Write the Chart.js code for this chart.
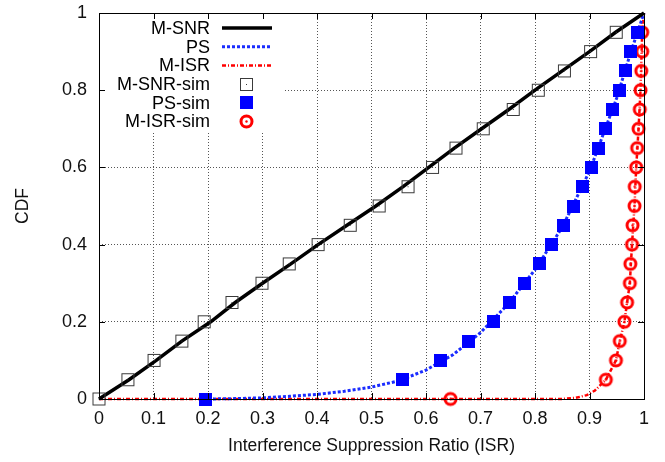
<!DOCTYPE html>
<html><head><meta charset="utf-8">
<script src="https://cdn.jsdelivr.net/npm/chart.js@4.4.0/dist/chart.umd.min.js"></script>
<style>html,body{margin:0;padding:0;background:#fff;overflow:hidden}</style>
</head><body>
<canvas id="c" width="665" height="462"></canvas>
<script>
// ---- data ----
const cdfLevels = [0,0.05,0.1,0.15,0.2,0.25,0.3,0.35,0.4,0.45,0.5,0.55,0.6,0.65,0.7,0.75,0.8,0.85,0.9,0.95];
const snrSimX = [0,0.053,0.101,0.152,0.193,0.244,0.299,0.349,0.402,0.461,0.514,0.567,0.612,0.655,0.705,0.76,0.806,0.854,0.902,0.949];
const psSimX  = [0.196,0.556,0.6275,0.678,0.7236,0.753,0.7805,0.808,0.831,0.852,0.87,0.888,0.903,0.917,0.929,0.942,0.9556,0.966,0.975,0.9875];
const isrSimX = [0.645,0.93,0.9486,0.9556,0.964,0.969,0.974,0.975,0.978,0.979,0.9826,0.983,0.9857,0.9875,0.99,0.9923,0.9936,0.995,0.9967,0.9967];

const snrLineX = [0,0.055,0.105,0.152,0.205,0.25,0.3,0.352,0.402,0.455,0.508,0.558,0.605,0.652,0.702,0.752,0.8,0.85,0.9,0.948,1];
const snrLineY = [0,0.05,0.1,0.15,0.2,0.25,0.3,0.35,0.4,0.45,0.5,0.55,0.6,0.65,0.7,0.75,0.8,0.85,0.9,0.95,1];
const psLineX = [0.2,0.25,0.3,0.35,0.4,0.45,0.5,0.55,0.6,0.65,0.7,0.75,0.8,0.85,0.9,0.925,0.95,0.975,1];
const psLineY = [0,0.001,0.003,0.007,0.012,0.02,0.031,0.047,0.075,0.115,0.172,0.245,0.335,0.445,0.59,0.685,0.78,0.895,1];
const isrLineX = [0,0.85,0.875,0.895,0.91,0.93,0.9486,0.9556,0.964,0.969,0.974,0.978,0.9826,0.9857,0.99,0.9936,0.9967,1];
const isrLineY = [0,0,0.003,0.01,0.022,0.05,0.1,0.15,0.2,0.25,0.3,0.4,0.5,0.6,0.7,0.8,0.95,1];

const xTickLabels = ['0','0.1','0.2','0.3','0.4','0.5','0.6','0.7','0.8','0.9','1'];
const yTickLabels = ['0','0.2','0.4','0.6','0.8','1'];
const seriesNames = ['M-SNR','PS','M-ISR','M-SNR-sim','PS-sim','M-ISR-sim'];
const xTitle = 'Interference Suppression Ratio (ISR)';
const yTitle = 'CDF';

// ---- helpers ----
const FONT = '"Liberation Sans", Arial, Helvetica, sans-serif';
const pts = (xs, ys) => xs.map((x, i) => ({x: x, y: ys[i]}));

function mk(w, h, fn){ const c = document.createElement('canvas'); c.width = w; c.height = h; fn(c.getContext('2d')); return c; }
const snrMarker = mk(17, 17, g => { g.strokeStyle = '#3a3a3a'; g.lineWidth = 1; g.strokeRect(2.5, 2.5, 12, 12); g.fillStyle = '#3a3a3a'; g.fillRect(8, 8, 1, 1); });
const psMarker  = mk(13, 13, g => { g.fillStyle = '#0000ff'; g.fillRect(0, 0, 13, 13); });
const isrMarker = mk(17, 17, g => { g.strokeStyle = '#ff0000'; g.lineWidth = 3; g.beginPath(); g.arc(8.5, 8.5, 5.5, 0, Math.PI*2); g.stroke(); g.fillStyle = '#ff0000'; g.beginPath(); g.arc(8.5, 8.5, 1.2, 0, Math.PI*2); g.fill(); });

const lineStyles = [
  {color:'#000000', width:3.5, dash:[]},
  {color:'#1a2cff', width:3, dash:[3,2]},
  {color:'#ff0000', width:2.5, dash:[4,2,1,2]}
];

const gpPlugin = {
  id: 'gp',
  beforeDatasetsDraw(chart){
    const g = chart.ctx, a = chart.chartArea;
    g.save(); g.fillStyle = '#fff'; g.fillRect(a.left + 1, a.top + 1, 183, 117); g.restore();
  },
  afterDatasetsDraw(chart){
    const g = chart.ctx, a = chart.chartArea;
    g.save();
    g.font = '18px ' + FONT; g.fillStyle = '#000'; g.textAlign = 'right'; g.textBaseline = 'middle';
    const tx = a.left + 111, s0 = a.left + 123, s1 = a.left + 173, mx = a.left + 147.5;
    for (let i = 0; i < 6; i++){
      const y = a.top + 15 + i * 18.7;
      g.fillText(seriesNames[i], tx, y + 1);
      if (i < 3){
        const st = lineStyles[i];
        g.strokeStyle = st.color; g.lineWidth = st.width; g.setLineDash(st.dash);
        g.beginPath(); g.moveTo(s0, y); g.lineTo(s1, y); g.stroke(); g.setLineDash([]);
      } else {
        const m = [snrMarker, psMarker, isrMarker][i - 3];
        g.drawImage(m, Math.round(mx - m.width/2), Math.round(y - m.height/2));
      }
    }
    g.restore();
  },
  afterDraw(chart){
    const g = chart.ctx, a = chart.chartArea, xs = chart.scales.x, ys = chart.scales.y;
    g.save(); g.strokeStyle = '#000'; g.lineWidth = 1;
    g.strokeRect(Math.round(a.left) + 0.5, Math.round(a.top) + 0.5, Math.round(a.right - a.left), Math.round(a.bottom - a.top));
    g.beginPath();
    xs.ticks.forEach(t => { const p = Math.round(xs.getPixelForValue(t.value)) + 0.5;
      g.moveTo(p, a.bottom); g.lineTo(p, a.bottom - 6); g.moveTo(p, a.top); g.lineTo(p, a.top + 6); });
    ys.ticks.forEach(t => { const p = Math.round(ys.getPixelForValue(t.value)) + 0.5;
      g.moveTo(a.left, p); g.lineTo(a.left + 6, p); g.moveTo(a.right, p); g.lineTo(a.right - 6, p); });
    g.stroke(); g.restore();
  }
};

const gridColor = c => (c.tick && (c.tick.value < 0.001 || c.tick.value > 0.999)) ? 'rgba(0,0,0,0)' : '#555';

new Chart(document.getElementById('c'), {
  type: 'scatter',
  data: {
    datasets: [
      {label: seriesNames[0], data: pts(snrLineX, snrLineY), showLine: true, borderColor: lineStyles[0].color, borderWidth: lineStyles[0].width, pointRadius: 0, order: 3, clip: false},
      {label: seriesNames[1], data: pts(psLineX, psLineY), showLine: true, borderColor: lineStyles[1].color, borderWidth: lineStyles[1].width, borderDash: lineStyles[1].dash, pointRadius: 0, order: 3, clip: false},
      {label: seriesNames[2], data: pts(isrLineX, isrLineY), showLine: true, borderColor: lineStyles[2].color, borderWidth: lineStyles[2].width, borderDash: lineStyles[2].dash, pointRadius: 0, order: 3, clip: false},
      {label: seriesNames[3], data: pts(snrSimX, cdfLevels), showLine: false, pointStyle: snrMarker, pointRadius: 8, order: 1, clip: false},
      {label: seriesNames[4], data: pts(psSimX, cdfLevels), showLine: false, pointStyle: psMarker, pointRadius: 8, order: 1, clip: false},
      {label: seriesNames[5], data: pts(isrSimX, cdfLevels), showLine: false, pointStyle: isrMarker, pointRadius: 8, order: 1, clip: false}
    ]
  },
  options: {
    responsive: false, animation: false, devicePixelRatio: 1,
    layout: {padding: {top: 13, right: 21, left: 0, bottom: 0}},
    plugins: {legend: {display: false}, tooltip: {enabled: false}},
    scales: {
      x: {
        type: 'linear', min: 0, max: 1,
        afterFit: s => { s.height = 63; s.paddingLeft = 0; s.paddingRight = 0; },
        ticks: {stepSize: 0.1, padding: 9, color: '#111', font: {family: FONT, size: 18}, maxRotation: 0,
          callback: (v, i) => xTickLabels[i]},
        grid: {color: gridColor, lineWidth: 1, drawTicks: false},
        border: {display: false, dash: [1, 2]},
        title: {display: true, text: xTitle, color: '#111', font: {family: FONT, size: 17.5}, padding: {top: 0, bottom: 5}}
      },
      y: {
        type: 'linear', min: 0, max: 1,
        afterFit: s => { s.width = 99; s.paddingTop = 0; s.paddingBottom = 0; },
        ticks: {stepSize: 0.2, padding: 12, color: '#111', font: {family: FONT, size: 18},
          callback: (v, i) => yTickLabels[i]},
        grid: {color: gridColor, lineWidth: 1, drawTicks: false},
        border: {display: false, dash: [1, 2]},
        title: {display: true, text: yTitle, color: '#111', font: {family: FONT, size: 17.5}, padding: {top: 13, bottom: 0}}
      }
    }
  },
  plugins: [gpPlugin]
});
</script>
</body></html>
